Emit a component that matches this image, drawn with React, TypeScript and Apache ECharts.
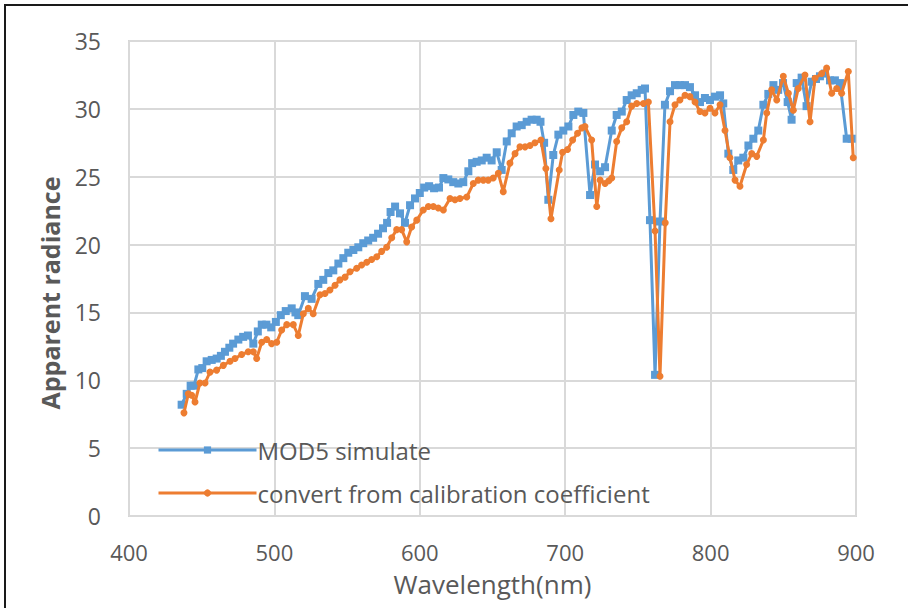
import React, { useEffect, useRef } from "react";
import * as echarts from "echarts";

const xTicks = [400, 500, 600, 700, 800, 900];
const yTicks = [0, 5, 10, 15, 20, 25, 30, 35];

const seriesNames = ["MOD5 simulate", "convert from calibration coefficient"];
const xTitle = "Wavelength(nm)";
const yTitle = "Apparent radiance";

const modWavelength = [
  436.2, 439.7, 442.4, 444.7, 447.7, 450.4, 453.4, 456.9, 460.3, 463.2,
  466.0, 469.0, 471.6, 475.2, 478.5, 481.8, 485.5, 488.6, 491.3, 494.5,
  497.8, 501.0, 504.4, 507.8, 511.9, 514.5, 516.4, 521.0, 525.6, 530.2,
  533.6, 537.1, 540.5, 544.0, 547.4, 550.8, 554.3, 557.7, 561.1, 564.5,
  567.9, 571.3, 574.7, 577.5, 579.9, 583.0, 586.4, 589.8, 593.3, 596.7,
  600.0, 603.0, 606.4, 609.8, 613.2, 616.2, 619.6, 623.0, 626.5, 629.9,
  633.4, 636.0, 639.1, 642.6, 646.0, 649.4, 652.9, 656.3, 659.8, 663.2,
  666.6, 670.1, 673.5, 676.9, 680.4, 683.0, 685.5, 688.4, 691.8, 695.3,
  698.7, 702.2, 705.6, 709.0, 712.5, 717.1, 720.5, 724.0, 727.4, 732.0,
  735.4, 738.9, 742.3, 745.7, 749.2, 752.6, 754.9, 758.3, 761.8, 765.2,
  768.6, 772.1, 775.5, 778.9, 782.4, 785.8, 789.3, 792.7, 796.1, 799.6,
  803.0, 806.5, 808.7, 812.2, 815.6, 819.0, 822.5, 826.0, 829.4, 832.8,
  836.3, 839.7, 843.2, 846.5, 849.8, 853.0, 855.7, 859.2, 862.6, 866.0,
  869.5, 872.5, 875.2, 878.6, 882.1, 885.5, 889.0, 893.6, 897.0,
];
const modRadiance = [
  8.2, 9.0, 9.6, 9.6, 10.8, 10.9, 11.4, 11.5, 11.6, 11.8,
  12.1, 12.4, 12.7, 13.0, 13.2, 13.3, 12.7, 13.6, 14.1, 14.1,
  13.9, 14.3, 14.8, 15.1, 15.3, 15.0, 14.8, 16.2, 16.0, 17.1,
  17.4, 17.9, 18.1, 18.6, 19.0, 19.4, 19.6, 19.8, 20.1, 20.3,
  20.5, 20.8, 21.2, 21.6, 22.4, 22.8, 22.3, 21.6, 22.9, 23.4,
  23.8, 24.2, 24.3, 24.15, 24.2, 24.9, 24.8, 24.6, 24.5, 24.6,
  25.4, 26.0, 26.1, 26.2, 26.4, 26.2, 26.8, 25.5, 27.6, 28.2,
  28.7, 28.8, 29.05, 29.2, 29.2, 29.05, 27.5, 23.3, 26.6, 28.1,
  28.4, 28.7, 29.55, 29.8, 29.7, 23.65, 25.9, 25.4, 25.7, 28.4,
  29.55, 29.8, 30.65, 31.0, 31.15, 31.4, 31.5, 21.8, 10.4, 21.7,
  30.3, 31.3, 31.75, 31.75, 31.75, 31.6, 31.0, 30.5, 30.8, 30.65,
  30.9, 31.0, 30.4, 26.7, 25.5, 26.2, 26.4, 27.3, 27.8, 28.4,
  30.3, 31.1, 31.75, 31.4, 31.9, 30.5, 29.2, 31.9, 32.3, 30.2,
  32.0, 32.2, 32.4, 32.6, 32.1, 32.1, 31.9, 27.8, 27.8,
];

const convWavelength = [
  437.8, 440.8, 443.1, 445.4, 448.8, 452.3, 455.7, 460.3, 464.9, 469.5,
  472.9, 477.5, 482.0, 485.5, 487.8, 491.3, 494.7, 498.1, 501.6, 505.0,
  508.5, 513.0, 516.4, 519.9, 523.3, 526.7, 531.4, 534.8, 538.2, 541.7,
  545.1, 548.6, 552.0, 556.6, 560.0, 563.5, 566.9, 570.4, 573.8, 577.2,
  580.7, 584.1, 587.5, 591.0, 594.4, 597.9, 602.4, 605.9, 609.3, 612.7,
  616.2, 620.8, 624.2, 627.6, 632.3, 636.8, 640.2, 643.7, 647.1, 650.5,
  654.0, 657.4, 662.0, 665.5, 668.9, 672.4, 675.8, 679.2, 683.3, 686.7,
  690.2, 695.9, 698.2, 701.6, 705.1, 708.5, 711.5, 713.6, 718.2, 721.7,
  724.0, 727.4, 730.0, 732.0, 735.4, 738.9, 742.3, 745.7, 749.2, 753.8,
  757.2, 761.8, 765.2, 768.8, 772.1, 775.5, 778.9, 782.4, 785.8, 789.3,
  792.7, 796.1, 799.6, 803.0, 806.5, 809.9, 813.3, 816.8, 820.2, 824.8,
  828.3, 831.7, 836.3, 838.6, 842.0, 845.5, 850.0, 853.5, 856.9, 860.3,
  864.9, 868.4, 871.8, 876.4, 879.8, 883.3, 886.7, 890.1, 894.7, 898.1,
];
const convRadiance = [
  7.6, 9.0, 8.9, 8.4, 9.8, 9.8, 10.6, 10.75, 11.1, 11.4,
  11.6, 11.9, 12.1, 12.1, 11.6, 12.8, 13.0, 12.7, 12.8, 13.7,
  14.1, 14.1, 13.3, 14.9, 15.3, 14.9, 16.3, 16.4, 16.65, 17.0,
  17.4, 17.6, 18.0, 18.25, 18.5, 18.7, 18.9, 19.1, 19.5, 19.8,
  20.5, 21.1, 21.1, 20.2, 21.3, 21.8, 22.55, 22.8, 22.8, 22.7,
  22.55, 23.4, 23.3, 23.4, 23.5, 24.5, 24.75, 24.75, 24.75, 24.9,
  25.25, 23.9, 26.0, 26.7, 27.2, 27.2, 27.3, 27.5, 27.7, 25.6,
  21.9, 25.5, 26.8, 27.0, 27.7, 28.2, 28.6, 28.7, 27.7, 22.8,
  24.75, 24.5, 24.7, 24.9, 27.6, 28.6, 29.05, 30.2, 30.4, 30.4,
  30.5, 21.0, 10.3, 21.6, 29.05, 30.3, 30.65, 31.0, 30.9, 30.5,
  29.8, 29.7, 30.05, 29.7, 30.3, 28.4, 26.4, 24.75, 24.3, 25.9,
  26.7, 26.5, 27.7, 29.7, 31.4, 30.65, 32.4, 31.15, 29.9, 31.5,
  32.5, 29.05, 32.25, 32.6, 33.0, 31.15, 31.5, 31.15, 32.75, 26.4,
];

const FONT = "'Open Sans', Lato, sans-serif";

export default function App() {
  const ref = useRef<HTMLDivElement>(null);

  useEffect(() => {
    if (!ref.current) return;
    const chart = echarts.init(ref.current, null, { renderer: "svg" });
    const modData = modWavelength.map((w, i) => [w, modRadiance[i]]);
    const convData = convWavelength.map((w, i) => [w, convRadiance[i]]);
    chart.setOption({
      animation: false,
      backgroundColor: "#ffffff",
      graphic: [
        {
          type: "rect",
          shape: { x: 5, y: 5, width: 920, height: 620 },
          style: { fill: "none", stroke: "#1a1a1a", lineWidth: 2 },
          silent: true,
        },
        {
          type: "text",
          x: 50,
          y: 293,
          rotation: Math.PI / 2,
          style: {
            text: yTitle,
            fontFamily: FONT,
            fontSize: 25,
            fontWeight: "bold",
            fill: "#595959",
            align: "center",
            verticalAlign: "middle",
          },
          silent: true,
        },
      ],
      grid: {
        left: 129,
        right: 52,
        top: 41,
        bottom: 92,
        show: true,
        borderColor: "#d4d4d4",
        borderWidth: 2,
      },
      legend: {
        orient: "vertical",
        left: 152,
        top: 433,
        itemGap: 19,
        itemWidth: 98,
        itemHeight: 9,
        lineStyle: { width: 3 },
        textStyle: { fontFamily: FONT, fontSize: 24, color: "#595959", padding: [0, 0, 0, -4] },
        data: seriesNames,
      },
      xAxis: {
        type: "value",
        min: xTicks[0],
        max: xTicks[xTicks.length - 1],
        interval: 100,
        name: xTitle,
        nameLocation: "middle",
        nameGap: 55,
        nameTextStyle: { fontFamily: FONT, fontSize: 26, color: "#595959" },
        axisLine: { show: false },
        axisTick: { show: false },
        axisLabel: { fontFamily: FONT, fontSize: 22, color: "#595959", margin: 25 },
        splitLine: { show: true, lineStyle: { color: "#d9d9d9", width: 2 } },
      },
      yAxis: {
        type: "value",
        min: yTicks[0],
        max: yTicks[yTicks.length - 1],
        interval: 5,
        axisLine: { show: false },
        axisTick: { show: false },
        axisLabel: { fontFamily: FONT, fontSize: 23, color: "#595959", margin: 28 },
        splitLine: { show: true, lineStyle: { color: "#d9d9d9", width: 2 } },
      },
      series: [
        {
          name: seriesNames[0],
          type: "line",
          data: modData,
          symbol: "rect",
          symbolSize: 8,
          showAllSymbol: true,
          itemStyle: { color: "#5b9bd5" },
          lineStyle: { color: "#5b9bd5", width: 3 },
          z: 2,
        },
        {
          name: seriesNames[1],
          type: "line",
          data: convData,
          symbol: "circle",
          symbolSize: 7,
          showAllSymbol: true,
          itemStyle: { color: "#ed7d31" },
          lineStyle: { color: "#ed7d31", width: 3 },
          z: 3,
        },
      ],
    });
    return () => chart.dispose();
  }, []);

  return (
    <div
      ref={ref}
      style={{ position: "fixed", left: 0, top: 0, width: 908, height: 608 }}
    />
  );
}
